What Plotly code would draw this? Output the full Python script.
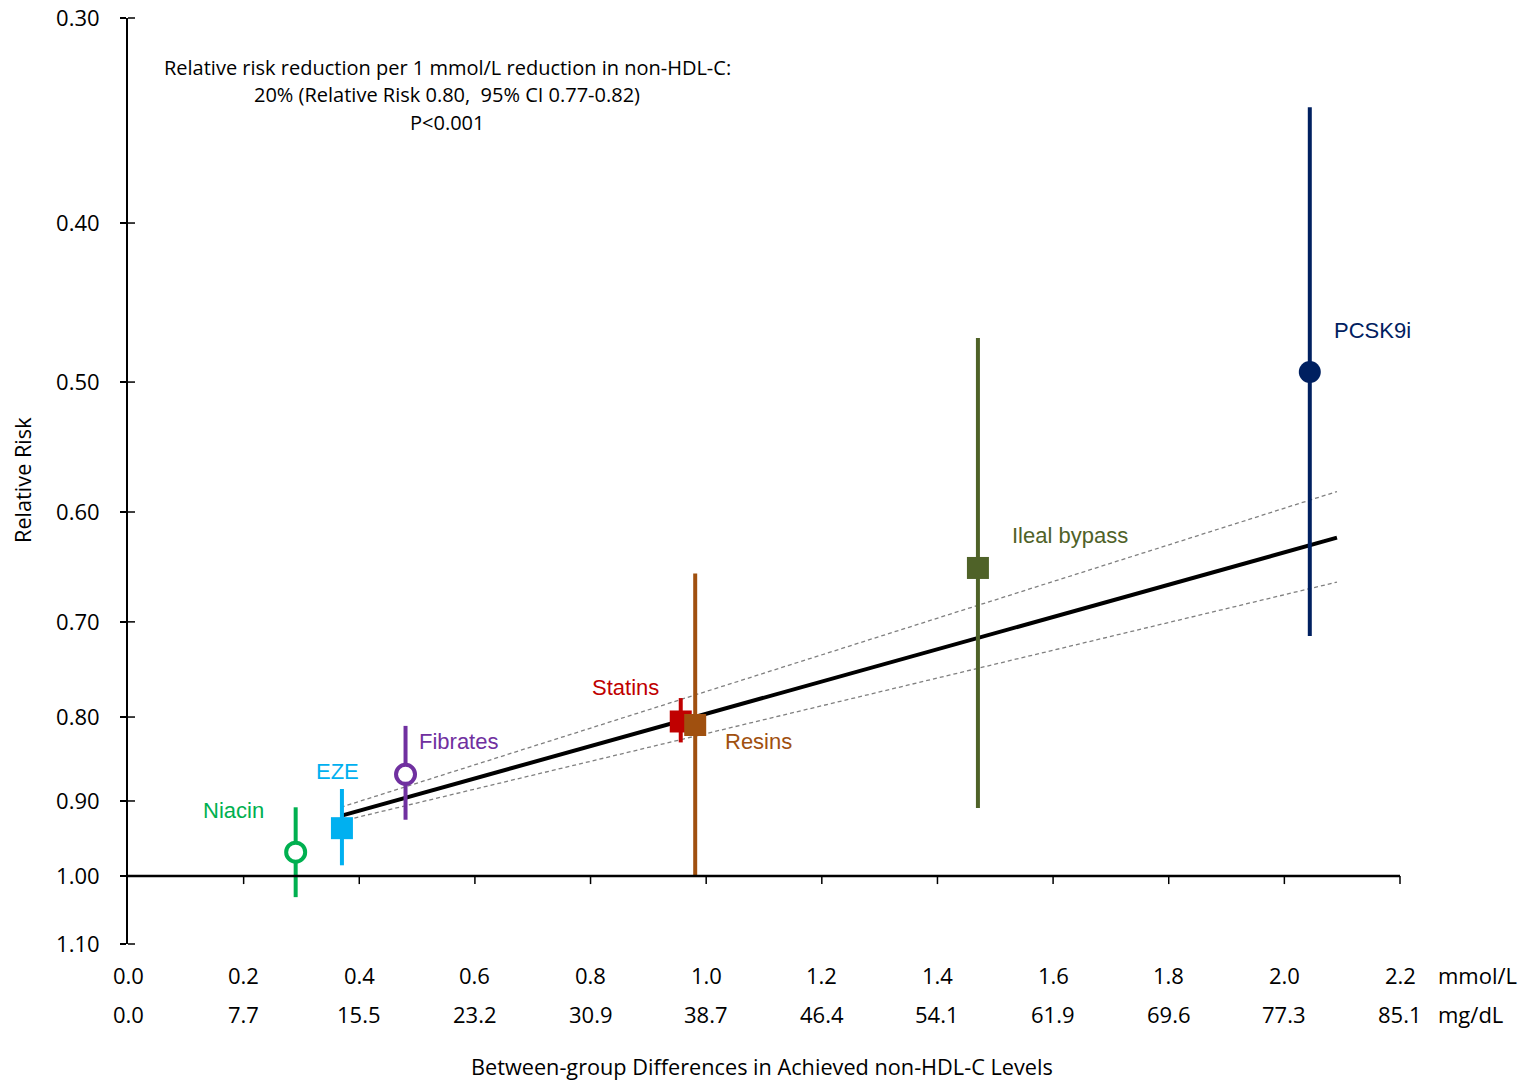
import math
import plotly.graph_objects as go

# ---------------- data ----------------
drugs = ["Niacin", "EZE", "Fibrates", "Statins", "Resins", "Ileal bypass", "PCSK9i"]
diff_mmol = [0.29, 0.37, 0.48, 0.956, 0.981, 1.47, 2.044]
rr = [0.967, 0.935, 0.867, 0.805, 0.809, 0.649, 0.493]
ci_low = [0.908, 0.885, 0.810, 0.779, 0.654, 0.470, 0.340]
ci_high = [1.030, 0.985, 0.924, 0.829, 1.000, 0.909, 0.714]

fit_x = [0.368, 2.091]
fit_rr = [0.919, 0.622]
fit_ci_upper_rr = [0.926, 0.662]
fit_ci_lower_rr = [0.908, 0.583]

y_ticks = [0.30, 0.40, 0.50, 0.60, 0.70, 0.80, 0.90, 1.00, 1.10]
y_tick_text = ["0.30", "0.40", "0.50", "0.60", "0.70", "0.80", "0.90", "1.00", "1.10"]
x_ticks_mmol = [0.0, 0.2, 0.4, 0.6, 0.8, 1.0, 1.2, 1.4, 1.6, 1.8, 2.0, 2.2]
x_text_mmol = ["0.0", "0.2", "0.4", "0.6", "0.8", "1.0", "1.2", "1.4", "1.6", "1.8", "2.0", "2.2"]
x_text_mgdl = ["0.0", "7.7", "15.5", "23.2", "30.9", "38.7", "46.4", "54.1", "61.9", "69.6", "77.3", "85.1"]

# ---------------- styles ----------------
colors = ["#00B050", "#00B0F0", "#7030A0", "#C00000", "#A0500F", "#4F6228", "#002060"]
symbols = ["circle-open", "square", "circle-open", "square", "square", "square", "circle"]
label_pos = [(0.183, 0.912), (0.363, 0.863), (0.572, 0.828), (0.860, 0.768),
             (1.090, 0.828), (1.629, 0.620), (2.153, 0.465)]

FONT = "Open Sans, Liberation Sans, Arial, sans-serif"
LABEL_FONT = "Liberation Sans Narrow, Arial Narrow, Liberation Sans, sans-serif"

OFF = 0  # page body margin removed via post_script
W, H = 1523, 1083
PW, PH = 1272, 926
ML, MT = 128 - OFF, 18 - OFF
MR, MB = W - ML - PW, H - MT - PH
X_RANGE = [0, 2.2]
Y_RANGE = [math.log10(1.1), math.log10(0.3)]


def y_frac(v):
    return (math.log10(v) - Y_RANGE[0]) / (Y_RANGE[1] - Y_RANGE[0])


def px_to_paper_y(py):
    return (H - MB - (py - OFF)) / PH


def px_to_paper_x(px):
    return ((px - OFF) - ML) / PW


fig = go.Figure()

# fit CI dashed lines
for ys in (fit_ci_upper_rr, fit_ci_lower_rr):
    fig.add_trace(go.Scatter(x=fit_x, y=ys, mode="lines",
                             line=dict(color="#808080", width=1.3, dash="4px,3px"),
                             hoverinfo="skip", showlegend=False))
# fit line
fig.add_trace(go.Scatter(x=fit_x, y=fit_rr, mode="lines",
                         line=dict(color="black", width=4),
                         hoverinfo="skip", showlegend=False))

# points with CI
for i, name in enumerate(drugs):
    c = colors[i]
    open_marker = symbols[i].endswith("open")
    marker = dict(
        symbol="circle" if open_marker else symbols[i],
        size=19 if open_marker else 22,
        color="white" if open_marker else c,
        line=dict(color=c, width=4 if open_marker else 0),
    )
    fig.add_trace(go.Scatter(
        x=[diff_mmol[i]], y=[rr[i]], mode="markers", name=name,
        marker=marker,
        error_y=dict(type="data", symmetric=False,
                     array=[ci_high[i] - rr[i]], arrayminus=[rr[i] - ci_low[i]],
                     color=c, thickness=4, width=0),
        showlegend=False,
    ))
    lx, ly = label_pos[i]
    fig.add_annotation(x=lx, y=math.log10(ly), xref="x", yref="y", text=name,
                       xanchor="center", yanchor="middle",
                       showarrow=False, font=dict(family=LABEL_FONT, size=22, color=c))

shapes = []
y1_frac = y_frac(1.0)
# x-axis line at RR = 1.00
shapes.append(dict(type="line", xref="paper", yref="paper", x0=0, x1=1,
                   y0=y1_frac, y1=y1_frac, line=dict(color="black", width=2.5)))
# x ticks (pointing down)
for xv in x_ticks_mmol[1:]:
    xf = (xv - X_RANGE[0]) / (X_RANGE[1] - X_RANGE[0])
    shapes.append(dict(type="line", xref="paper", yref="paper",
                       x0=xf, x1=xf, y0=y1_frac, y1=y1_frac - 8 / PH,
                       line=dict(color="black", width=1.5)))
# y ticks inner half
for yv in y_ticks:
    yf = y_frac(yv)
    shapes.append(dict(type="line", xref="paper", yref="paper",
                       x0=0, x1=7 / PW, y0=yf, y1=yf,
                       line=dict(color="black", width=1.5)))

fig.update_layout(shapes=shapes)

# x tick labels (two rows)
row1 = px_to_paper_y(975)
row2 = px_to_paper_y(1014)
for xv, t1, t2 in zip(x_ticks_mmol, x_text_mmol, x_text_mgdl):
    xf = (xv - X_RANGE[0]) / (X_RANGE[1] - X_RANGE[0])
    fig.add_annotation(x=xf, y=row1, xref="paper", yref="paper", text=t1, showarrow=False,
                       xanchor="center", yanchor="middle",
                       font=dict(family=FONT, size=22, color="black"))
    fig.add_annotation(x=xf, y=row2, xref="paper", yref="paper", text=t2, showarrow=False,
                       xanchor="center", yanchor="middle",
                       font=dict(family=FONT, size=22, color="black"))
fig.add_annotation(x=px_to_paper_x(1436), y=row1, xref="paper", yref="paper", text="mmol/L",
                   showarrow=False, xanchor="left", yanchor="middle",
                   font=dict(family=FONT, size=22, color="black"))
fig.add_annotation(x=px_to_paper_x(1436), y=row2, xref="paper", yref="paper", text="mg/dL",
                   showarrow=False, xanchor="left", yanchor="middle",
                   font=dict(family=FONT, size=22, color="black"))

# axis titles
fig.add_annotation(x=px_to_paper_x(762), y=px_to_paper_y(1066), xref="paper", yref="paper",
                   showarrow=False, xanchor="center", yanchor="middle",
                   text="Between-group Differences in Achieved non-HDL-C Levels",
                   font=dict(family=FONT, size=21.7, color="black"))
fig.add_annotation(x=px_to_paper_x(22), y=px_to_paper_y(480), xref="paper", yref="paper",
                   showarrow=False, text="Relative Risk", textangle=-90,
                   xanchor="center", yanchor="middle",
                   font=dict(family=FONT, size=21.7, color="black"))

# summary text
summary = ["Relative risk reduction per 1 mmol/L reduction in non-HDL-C:",
           "20% (Relative Risk 0.80,  95% CI 0.77-0.82)",
           "P<0.001"]
for txt, py in zip(summary, [68, 95, 123]):
    fig.add_annotation(x=px_to_paper_x(447), y=px_to_paper_y(py), xref="paper", yref="paper",
                       text=txt, showarrow=False, xanchor="center", yanchor="middle",
                       font=dict(family=FONT, size=20, color="black"))

fig.update_layout(
    width=W, height=H,
    margin=dict(l=ML, r=MR, t=MT, b=MB, autoexpand=False),
    paper_bgcolor="white", plot_bgcolor="white",
    font=dict(family=FONT, size=20, color="black"),
    showlegend=False,
    xaxis=dict(range=X_RANGE, showgrid=False, zeroline=False, showline=False,
               showticklabels=False, ticks="", automargin=False),
    yaxis=dict(type="log", range=Y_RANGE, automargin=False,
               tickvals=y_ticks, ticktext=y_tick_text,
               showgrid=False, zeroline=False, showline=True, linecolor="black", linewidth=2,
               ticks="outside", ticklen=6, tickwidth=1.5, tickcolor="black",
               ticklabelstandoff=16, ticklabeloverflow="allow",
               tickfont=dict(family=FONT, size=22, color="black")),
)

fig.write_html("out.html",
               config={"displayModeBar": False},
               post_script="document.body.style.margin='0';document.body.style.overflow='hidden';")
